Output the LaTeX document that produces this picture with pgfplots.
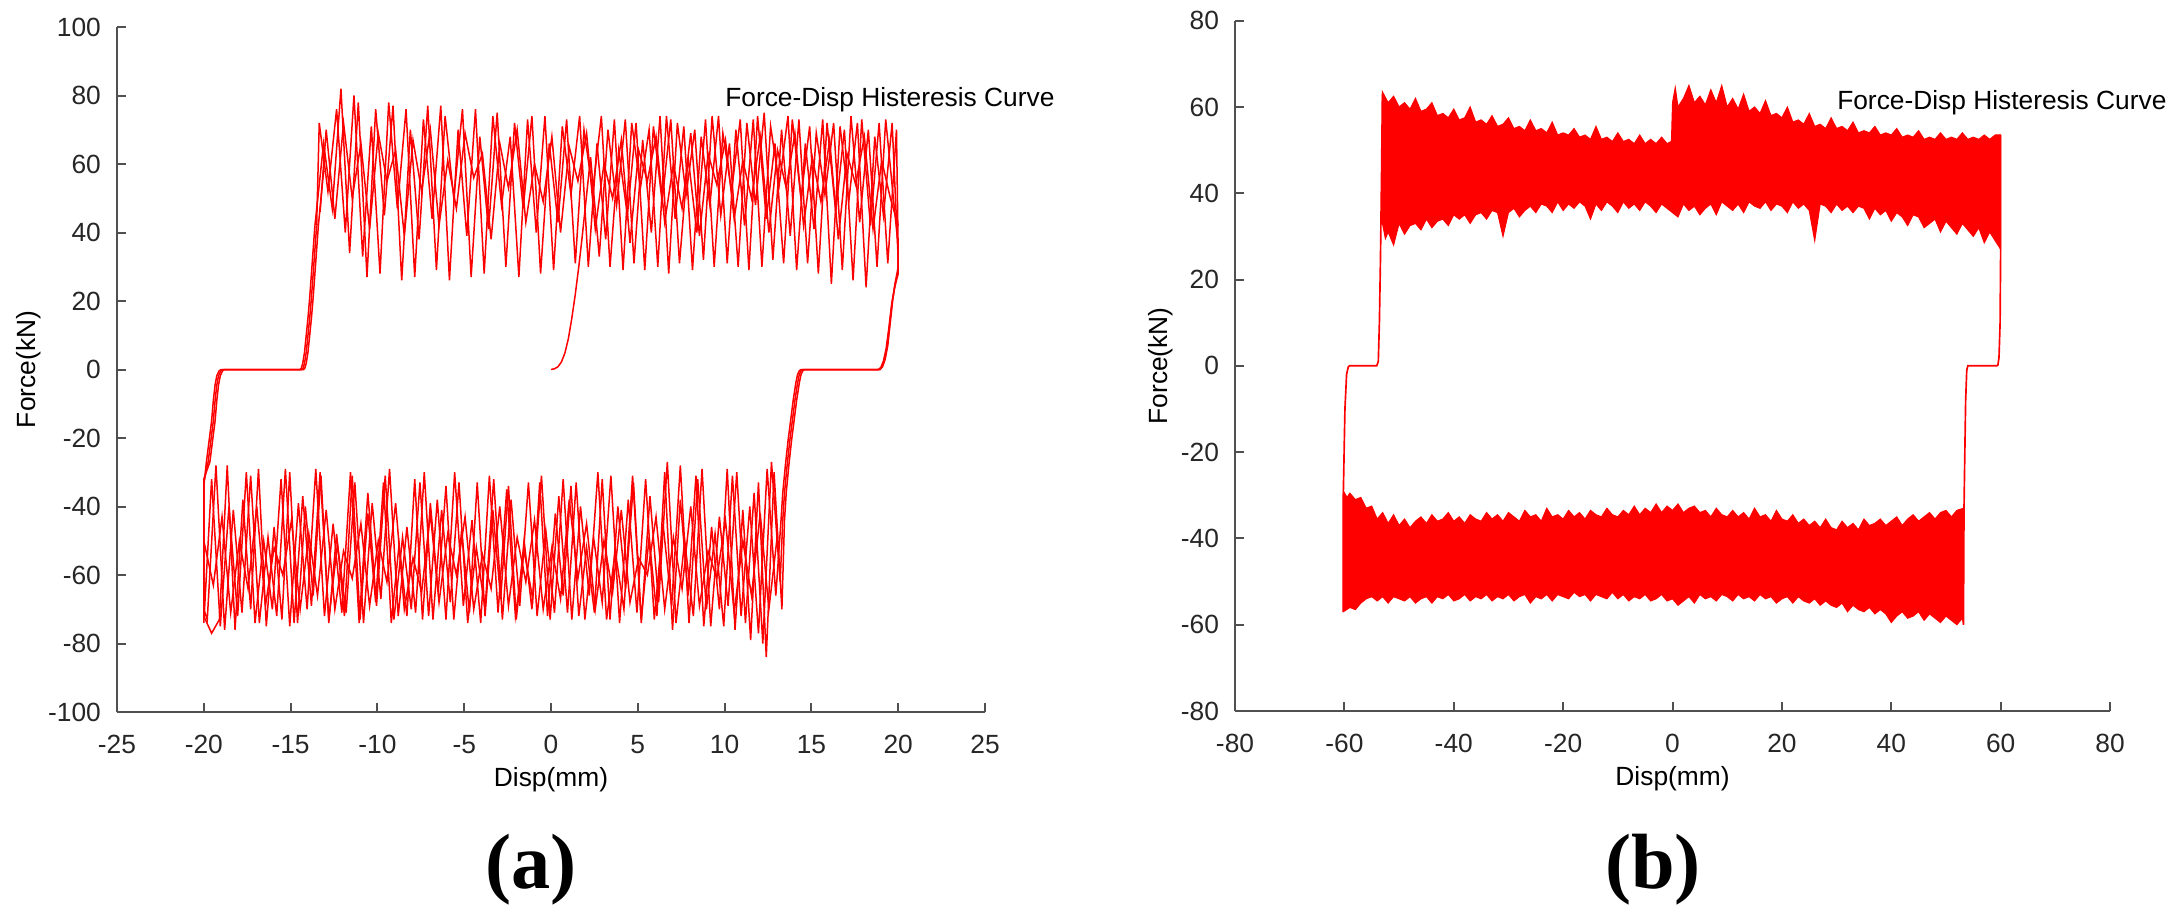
\documentclass[border=0pt]{standalone}
\usepackage{pgfplots}
\pgfplotsset{compat=1.18}
\usepackage{fontspec}
\setmainfont{Liberation Sans}
\newfontfamily\capfont{Liberation Serif}
\definecolor{axgray}{RGB}{80,80,80}
\definecolor{tickblack}{RGB}{38,38,38}
\pgfplotsset{
  hyst/.style={
    scale only axis, clip=false,
    axis lines=left,
    axis line style={-, draw=axgray, line width=0.6pt},
    tick style={draw=axgray, line width=0.6pt},
    tick align=inside, major tick length=2.7pt,
    /pgf/number format/assume math mode=true,
    tick label style={font=\fontsize{7.9}{9.5}\selectfont, text=tickblack},
    xticklabel style={yshift=-3.5pt},
    yticklabel style={xshift=-1.3pt},
    label style={font=\fontsize{7.9}{9.5}\selectfont, text=tickblack},
  }
}
\begin{document}
\begin{tikzpicture}[font=\fontsize{7.9}{9.5}\selectfont]
\path (0,0) rectangle (654.6pt,276.6pt);
% ---------------- (a) ----------------
\begin{axis}[hyst,
  at={(35.1pt,63pt)}, anchor=south west,
  width=260.4pt, height=205.5pt,
  xmin=-25, xmax=25, ymin=-100, ymax=100,
  xtick={-25,-20,...,25}, ytick={-100,-80,...,100},
  xlabel={Disp(mm)}, ylabel={Force(kN)},
  every axis x label/.style={at={(axis description cs:0.5,-0.0993)},anchor=center},
  every axis y label/.style={at={(axis description cs:-0.1014,0.5)},anchor=center,rotate=90},
]
\addplot[red, line width=0.45pt] coordinates {
(0,0) (0.2,0.2) (0.4,0.8) (0.6,2.2) (0.8,4.8) (1.0,9) (1.2,15) (1.4,22) (1.6,30) (1.78,38)
(2.28,62) (2.78,33) (3.28,70) (3.78,48) (4.28,73) (4.78,31) (5.28,67) (5.78,40) (6.28,74) (6.78,28) (7.28,72) (7.78,51) (8.28,70) (8.78,32) (9.28,74) (9.78,45) (10.28,66) (10.78,30) (11.28,72) (11.78,48) (12.28,75) (12.78,32) (13.28,70) (13.78,39) (14.28,73) (14.78,31) (15.28,69) (15.78,51) (16.28,72) (16.78,29) (17.28,74) (17.78,43) (18.28,70) (18.78,30) (19.28,73) (19.78,47) (20,36)
(20,30) (19.85,26) (19.7,21) (19.55,14) (19.4,7) (19.25,3) (19.1,0.8) (18.95,0) (14.6,0) (14.5,-0.4) (14.4,-1.5) (14.3,-4) (14.15,-9) (14.0,-15) (13.85,-21) (13.7,-28) (13.55,-36) (13.45,-44)
(13.3,-70) (12.85,-30) (12.4,-84) (11.95,-33) (11.5,-79) (11.05,-41) (10.6,-76) (10.15,-29) (9.7,-70) (9.25,-46) (8.8,-75) (8.35,-31) (7.9,-66) (7.45,-38) (7.0,-76) (6.55,-30) (6.1,-72) (5.65,-49) (5.2,-73) (4.75,-33) (4.3,-64) (3.85,-40) (3.4,-73) (2.95,-32) (2.5,-71) (2.05,-52) (1.6,-72) (1.15,-34) (0.7,-66) (0.25,-42) (-0.2,-72) (-0.65,-33) (-1.1,-70) (-1.55,-50) (-2.0,-73) (-2.45,-34) (-2.9,-67) (-3.35,-41) (-3.8,-72) (-4.25,-33) (-4.7,-71) (-5.15,-47) (-5.6,-73) (-6.05,-34) (-6.5,-65) (-6.95,-39) (-7.4,-73) (-7.85,-32) (-8.3,-72) (-8.75,-51) (-9.2,-74) (-9.65,-33) (-10.1,-68) (-10.55,-42) (-11.0,-73) (-11.45,-31) (-11.9,-72) (-12.35,-48) (-12.8,-74) (-13.25,-31) (-13.7,-66) (-14.15,-40) (-14.6,-74) (-15.05,-30) (-15.5,-73) (-15.95,-46) (-16.4,-75) (-16.85,-29) (-17.3,-70) (-17.75,-38) (-18.2,-76) (-18.65,-28) (-19.1,-73) (-19.55,-77) (-20.0,-72)
(-20,-34) (-19.85,-27) (-19.7,-21) (-19.55,-15) (-19.45,-9) (-19.35,-4.5) (-19.25,-1.8) (-19.12,-0.4) (-19.0,0) (-14.45,0) (-14.38,0.4) (-14.3,1.8) (-14.2,5) (-14.1,10) (-14.0,15) (-13.9,21) (-13.8,28) (-13.7,35) (-13.6,42)
};
\addplot[red, line width=0.45pt] coordinates {
(-13.6,42) (-13.1,66) (-12.6,47) (-12.1,82) (-11.6,34) (-11.1,78) (-10.6,27) (-10.1,76) (-9.6,45) (-9.1,77) (-8.6,26) (-8.1,70) (-7.6,38) (-7.1,77) (-6.6,29) (-6.1,74) (-5.6,50) (-5.1,76) (-4.6,27) (-4.1,68) (-3.6,41) (-3.1,75) (-2.6,30) (-2.1,72) (-1.6,47) (-1.1,74) (-0.6,28) (-0.1,66) (0.4,43) (0.9,73) (1.4,31) (1.9,70) (2.4,52) (2.9,74) (3.4,30) (3.9,64) (4.4,45) (4.9,72) (5.4,29) (5.9,71) (6.4,49) (6.9,73) (7.4,31) (7.9,62) (8.4,40) (8.9,73) (9.4,30) (9.9,69) (10.4,52) (10.9,73) (11.4,29) (11.9,74) (12.4,44) (12.9,66) (13.4,31) (13.9,73) (14.4,50) (14.9,71) (15.4,28) (15.9,72) (16.4,46) (16.9,70) (17.4,26) (17.9,73) (18.4,42) (18.9,72) (19.4,31) (19.9,70) (20.0,34)
(20,29) (19.82,25) (19.66,20) (19.5,13) (19.35,6.5) (19.2,2.8) (19.05,0.7) (18.9,0) (14.5,0) (14.4,-0.4) (14.3,-1.5) (14.2,-4) (14.05,-9) (13.9,-15) (13.75,-21) (13.6,-28) (13.45,-36) (13.35,-44)
(13.2,-62) (12.7,-27) (12.2,-80) (11.7,-36) (11.2,-74) (10.7,-30) (10.2,-69) (9.7,-43) (9.2,-75) (8.7,-29) (8.2,-72) (7.7,-50) (7.2,-74) (6.7,-27) (6.2,-68) (5.7,-37) (5.2,-74) (4.7,-31) (4.2,-70) (3.7,-53) (3.2,-73) (2.7,-30) (2.2,-66) (1.7,-40) (1.2,-73) (0.7,-32) (0.2,-71) (-0.3,-47) (-0.8,-72) (-1.3,-33) (-1.8,-69) (-2.3,-38) (-2.8,-73) (-3.3,-32) (-3.8,-70) (-4.3,-52) (-4.8,-74) (-5.3,-33) (-5.8,-68) (-6.3,-41) (-6.8,-73) (-7.3,-30) (-7.8,-71) (-8.3,-46) (-8.8,-72) (-9.3,-29) (-9.8,-67) (-10.3,-39) (-10.8,-74) (-11.3,-33) (-11.8,-71) (-12.3,-51) (-12.8,-73) (-13.3,-30) (-13.8,-69) (-14.3,-37) (-14.8,-74) (-15.3,-29) (-15.8,-72) (-16.3,-49) (-16.8,-74) (-17.3,-31) (-17.8,-71) (-18.3,-41) (-18.8,-76) (-19.3,-28) (-19.8,-73) (-20.0,-70)
(-20,-33) (-19.75,-27) (-19.6,-21) (-19.45,-15) (-19.35,-9) (-19.25,-4.5) (-19.15,-1.8) (-19.02,-0.4) (-18.9,0) (-14.35,0) (-14.28,0.4) (-14.2,1.8) (-14.1,5) (-14.0,10) (-13.9,15) (-13.8,21) (-13.7,28) (-13.6,35) (-13.5,42)
};
\addplot[red, line width=0.45pt] coordinates {
(-13.5,42) (-13.35,72) (-12.85,52) (-12.35,76) (-11.85,40) (-11.35,80) (-10.85,33) (-10.35,71) (-9.85,28) (-9.35,78) (-8.85,47) (-8.35,76) (-7.85,27) (-7.35,73) (-6.85,44) (-6.35,77) (-5.85,26) (-5.35,70) (-4.85,39) (-4.35,76) (-3.85,28) (-3.35,74) (-2.85,48) (-2.35,68) (-1.85,27) (-1.35,73) (-0.85,40) (-0.35,74) (0.15,29) (0.65,71) (1.15,51) (1.65,74) (2.15,30) (2.65,66) (3.15,38) (3.65,73) (4.15,29) (4.65,72) (5.15,53) (5.65,70) (6.15,30) (6.65,74) (7.15,44) (7.65,71) (8.15,29) (8.65,68) (9.15,48) (9.65,74) (10.15,31) (10.65,70) (11.15,42) (11.65,73) (12.15,30) (12.65,71) (13.15,54) (13.65,74) (14.15,29) (14.65,66) (15.15,41) (15.65,73) (16.15,25) (16.65,71) (17.15,49) (17.65,72) (18.15,24) (18.65,68) (19.15,45) (19.65,72) (20.0,32)
(20,28) (19.8,24) (19.62,19) (19.46,12) (19.3,6) (19.15,2.5) (19.0,0.6) (18.85,0) (14.4,0) (14.3,-0.4) (14.2,-1.5) (14.1,-4) (13.95,-9) (13.8,-15) (13.65,-21) (13.5,-28) (13.35,-36) (13.25,-44)
(12.95,-66) (12.45,-29) (11.95,-77) (11.45,-40) (10.95,-72) (10.45,-31) (9.95,-75) (9.45,-48) (8.95,-70) (8.45,-32) (7.95,-74) (7.45,-28) (6.95,-69) (6.45,-45) (5.95,-73) (5.45,-32) (4.95,-71) (4.45,-38) (3.95,-74) (3.45,-31) (2.95,-68) (2.45,-49) (1.95,-73) (1.45,-33) (0.95,-71) (0.45,-37) (-0.05,-73) (-0.55,-31) (-1.05,-67) (-1.55,-53) (-2.05,-72) (-2.55,-35) (-3.05,-71) (-3.55,-31) (-4.05,-74) (-4.55,-44) (-5.05,-69) (-5.55,-30) (-6.05,-73) (-6.55,-38) (-7.05,-72) (-7.55,-33) (-8.05,-70) (-8.55,-49) (-9.05,-73) (-9.55,-31) (-10.05,-69) (-10.55,-36) (-11.05,-74) (-11.55,-30) (-12.05,-71) (-12.55,-45) (-13.05,-72) (-13.55,-29) (-14.05,-70) (-14.55,-39) (-15.05,-75) (-15.55,-32) (-16.05,-70) (-16.55,-50) (-17.05,-74) (-17.55,-30) (-18.05,-72) (-18.55,-40) (-19.05,-75) (-19.55,-32) (-20.0,-74)
(-20,-32) (-19.65,-27) (-19.5,-21) (-19.35,-15) (-19.25,-9) (-19.15,-4.5) (-19.05,-1.8) (-18.92,-0.4) (-18.8,0) (-14.25,0) (-14.18,0.4) (-14.1,1.8) (-14.0,5) (-13.9,10) (-13.8,15) (-13.7,21) (-13.6,28) (-13.5,35) (-13.4,42) (-13.1,58)
};
% inner cycles (smaller amplitude)
\addplot[red, line width=0.45pt] coordinates {
(-13.3,46) (-12.95,70) (-12.45,44) (-11.95,72) (-11.45,50) (-10.95,66) (-10.45,41) (-9.95,69) (-9.45,55) (-8.95,64) (-8.45,39) (-7.95,67) (-7.45,52) (-6.95,70) (-6.45,42) (-5.95,61) (-5.45,47) (-4.95,69) (-4.45,56) (-3.95,63) (-3.45,38) (-2.95,66) (-2.45,53) (-1.95,70) (-1.45,43) (-0.95,60) (-0.45,49) (0.05,68) (0.55,40) (1.05,65) (1.55,55) (2.05,69) (2.55,41) (3.05,60) (3.55,50) (4.05,67) (4.55,37) (5.05,64) (5.55,55) (6.05,68) (6.55,43) (7.05,60) (7.55,47) (8.05,69) (8.55,39) (9.05,63) (9.55,54) (10.05,67) (10.55,44) (11.05,61) (11.55,50) (12.05,68) (12.55,40) (13.05,64) (13.55,53) (14.05,69) (14.55,42) (15.05,62) (15.55,49) (16.05,67) (16.55,38) (17.05,63) (17.55,54) (18.05,68) (18.55,41) (19.05,61) (19.55,50) (20,42)
};
\addplot[red, line width=0.45pt] coordinates {
(13.05,-48) (12.55,-70) (12.05,-42) (11.55,-66) (11.05,-50) (10.55,-71) (10.05,-44) (9.55,-61) (9.05,-53) (8.55,-69) (8.05,-40) (7.55,-64) (7.05,-49) (6.55,-70) (6.05,-43) (5.55,-60) (5.05,-55) (4.55,-68) (4.05,-41) (3.55,-65) (3.05,-50) (2.55,-70) (2.05,-45) (1.55,-61) (1.05,-38) (0.55,-67) (0.05,-52) (-0.45,-70) (-0.95,-44) (-1.45,-62) (-1.95,-49) (-2.45,-69) (-2.95,-40) (-3.45,-64) (-3.95,-54) (-4.45,-70) (-4.95,-43) (-5.45,-60) (-5.95,-48) (-6.45,-68) (-6.95,-42) (-7.45,-65) (-7.95,-55) (-8.45,-70) (-8.95,-39) (-9.45,-62) (-9.95,-50) (-10.45,-69) (-10.95,-45) (-11.45,-61) (-11.95,-53) (-12.45,-70) (-12.95,-41) (-13.45,-66) (-13.95,-48) (-14.45,-70) (-14.95,-44) (-15.45,-60) (-15.95,-52) (-16.45,-69) (-16.95,-40) (-17.45,-64) (-17.95,-50) (-18.45,-71) (-18.95,-43) (-19.45,-63) (-20,-50)
};
\node[anchor=base west, inner sep=0pt, text=black] at (axis cs:10,76.8) {Force-Disp Histeresis Curve};
\end{axis}
% ---------------- (b) ----------------
\begin{axis}[hyst,
  at={(370.5pt,63.3pt)}, anchor=south west,
  width=262.5pt, height=207.1pt,
  xmin=-80, xmax=80, ymin=-80, ymax=80,
  xtick={-80,-60,...,80}, ytick={-80,-60,...,80},
  xlabel={Disp(mm)}, ylabel={Force(kN)},
  every axis x label/.style={at={(axis description cs:0.5,-0.0985)},anchor=center},
  every axis y label/.style={at={(axis description cs:-0.0846,0.5)},anchor=center,rotate=90},
]
\addplot[red, line width=0.5pt] coordinates {(-60.2,-57) (-60.2,-30) (-59.9,-10) (-59.6,-2) (-59.3,-0.3) (-59.1,0) (-54.1,0) (-53.8,1) (-53.6,10) (-53.4,25) (-53.2,45) (-53.05,63)};
\addplot[red, line width=0.5pt] coordinates {(60,53.5) (60,27) (59.9,10) (59.7,2) (59.5,0.2) (59.3,0) (54.0,0) (53.8,-1) (53.6,-8) (53.45,-20) (53.3,-33) (53.2,-60)};
\addplot[red, fill=red, line width=0.3pt] coordinates {
(-53.05,33) (-53.05,63.5) (-52,61) (-51,62.5) (-50,60) (-49,61) (-48,59.5) (-47,62) (-46,59) (-45,59.5) (-44,61) (-43,58) (-42,58.5) (-41,57.5) (-40,59.5) (-39,57) (-38,57.5) (-37,60) (-36,56.5) (-35,57) (-34,56) (-33,58) (-32,55.5) (-31,56) (-30,57.5) (-29,55) (-28,55.5) (-27,54.5) (-26,57) (-25,54.5) (-24,55) (-23,54) (-22,56.5) (-21,53.5) (-20,54) (-19,53.5) (-18,55) (-17,53) (-16,53.5) (-15,52.5) (-14,55.5) (-13,52.5) (-12,53) (-11,52) (-10,54) (-9,52) (-8,52.5) (-7,51.5) (-6,53.5) (-5,51.5) (-4,52.5) (-3,51.5) (-2,53) (-1,51.5) (-0.2,52)
(0,61) (0.5,64.5) (1,60) (2,62) (3,65) (4,61) (5,62.5) (6,60.5) (7,64) (8,61) (9,65) (10,60) (11,62) (12,59.5) (13,63) (14,59) (15,60) (16,58.5) (17,61.5) (18,58) (19,58.5) (20,57.5) (21,60) (22,56.5) (23,57) (24,56) (25,58.5) (26,55.5) (27,56) (28,55) (29,57.5) (30,55) (31,55.5) (32,54.5) (33,56.5) (34,54) (35,54.5) (36,54) (37,55.5) (38,53.5) (39,54) (40,53.5) (41,55) (42,53) (43,53.5) (44,53) (45,54.5) (46,52.5) (47,53) (48,52.5) (49,54) (50,52.5) (51,53) (52,52.5) (53,54) (54,52.5) (55,53) (56,52.5) (57,53.5) (58,52.5) (59,53.5) (60,53.5)
(60,27) (59,29) (58,31) (57,28.5) (56,32) (55,30) (54,31.5) (53,33) (52,30.5) (51,32) (50,33.5) (49,31) (48,34) (47,33) (46,32) (45,34.5) (44,35) (43,32.5) (42,34.5) (41,35.5) (40,33.5) (39,36) (38,35) (37,36.5) (36,34) (35,36.5) (34,37) (33,35.5) (32,37) (31,36) (30,37.5) (29,35.5) (28,37) (27,37.5) (26,29) (25,36) (24,37.5) (23,36.5) (22,38) (21,35.5) (20,37) (19,37.5) (18,36) (17,38) (16,36.5) (15,37) (14,38) (13,35.5) (12,37.5) (11,36) (10,37) (9,38) (8,35) (7,37.5) (6,36.5) (5,35) (4,37) (3,36) (2,37.5) (1,34.5) (0,35.5) (-1,36.5) (-2,37.5) (-3,35.5) (-4,37) (-5,38) (-6,36) (-7,37.5) (-8,36.5) (-9,38) (-10,35.5) (-11,37) (-12,38) (-13,36) (-14,37.5) (-15,34) (-16,37) (-17,38) (-18,36.5) (-19,37.5) (-20,36) (-21,38) (-22,35.5) (-23,37) (-24,37.5) (-25,35.5) (-26,37) (-27,36) (-28,34.5) (-29,36.5) (-30,35.5) (-31,30) (-32,35.5) (-33,36) (-34,34) (-35,35.5) (-36,35) (-37,33) (-38,35) (-39,34) (-40,35) (-41,32.5) (-42,34) (-43,33.5) (-44,32) (-45,34) (-46,31.5) (-47,33) (-48,32.5) (-49,30.5) (-50,33) (-51,28) (-52,31) (-52.5,29.5) (-53.05,33)
} -- cycle;
\addplot[red, fill=red, line width=0.3pt] coordinates {
(-60.2,-57) (-60.2,-29) (-59.5,-30.5) (-59,-29.5) (-58,-31) (-57,-30.5) (-56,-33) (-55,-32.5) (-54,-35.5) (-53,-34) (-52,-36.5) (-51,-34.5) (-50,-37) (-49,-35.5) (-48,-37.5) (-47,-36) (-46,-35) (-45,-36.5) (-44,-34.5) (-43,-36) (-42,-35.5) (-41,-34) (-40,-36) (-39,-35) (-38,-36.5) (-37,-34.5) (-36,-35.5) (-35,-36) (-34,-34) (-33,-35.5) (-32,-34.5) (-31,-36) (-30,-34) (-29,-35) (-28,-36) (-27,-33.5) (-26,-35) (-25,-34.5) (-24,-36) (-23,-33) (-22,-35) (-21,-34.5) (-20,-35.5) (-19,-33.5) (-18,-35) (-17,-34) (-16,-35.5) (-15,-33.5) (-14,-34.5) (-13,-35) (-12,-33) (-11,-34.5) (-10,-35) (-9,-33.5) (-8,-34.5) (-7,-32.5) (-6,-34.5) (-5,-33) (-4,-34) (-3,-32) (-2,-34) (-1,-32.5) (0,-33.5) (1,-32) (2,-34) (3,-33) (4,-32.5) (5,-34) (6,-33.5) (7,-35) (8,-33) (9,-34.5) (10,-35) (11,-33.5) (12,-35) (13,-34) (14,-35.5) (15,-33) (16,-35) (17,-34.5) (18,-36) (19,-33.5) (20,-35.5) (21,-36) (22,-34.5) (23,-36.5) (24,-35.5) (25,-37) (26,-36) (27,-37.5) (28,-35.5) (29,-37.5) (30,-38) (31,-36) (32,-37.5) (33,-36.5) (34,-38) (35,-35.5) (36,-37) (37,-36.5) (38,-35.5) (39,-37) (40,-36) (41,-35) (42,-37) (43,-35.5) (44,-34.5) (45,-36) (46,-35) (47,-34) (48,-35.5) (49,-34) (50,-33.5) (51,-35) (52,-33.5) (53.2,-33)
(53.2,-60) (53,-58.5) (52,-60) (51,-59) (50,-58) (49,-59.5) (48,-58.5) (47,-57.5) (46,-59) (45,-57) (44,-58) (43,-58.5) (42,-57) (41,-58) (40,-59.5) (39,-57.5) (38,-56.5) (37,-57.5) (36,-56) (35,-57) (34,-56.5) (33,-55.5) (32,-57) (31,-55) (30,-56) (29,-55.5) (28,-54.5) (27,-55.5) (26,-54) (25,-55) (24,-54.5) (23,-53.5) (22,-55) (21,-53.5) (20,-54) (19,-55) (18,-53.5) (17,-54) (16,-53) (15,-54.5) (14,-53.5) (13,-54) (12,-53) (11,-54.5) (10,-53.5) (9,-53) (8,-54.5) (7,-53.5) (6,-54) (5,-53) (4,-55) (3,-53.5) (2,-54.5) (1,-55.5) (0,-54) (-1,-54.5) (-2,-53) (-3,-54) (-4,-54.5) (-5,-53) (-6,-54) (-7,-53.5) (-8,-54.5) (-9,-53) (-10,-54) (-11,-52.5) (-12,-54) (-13,-53.5) (-14,-53) (-15,-54.5) (-16,-53) (-17,-53.5) (-18,-52.5) (-19,-54) (-20,-53.5) (-21,-53) (-22,-54.5) (-23,-53) (-24,-54) (-25,-53.5) (-26,-55) (-27,-53) (-28,-53.5) (-29,-54.5) (-30,-53) (-31,-54) (-32,-53.5) (-33,-54.5) (-34,-53) (-35,-54) (-36,-53.5) (-37,-54.5) (-38,-53) (-39,-54) (-40,-54.5) (-41,-53) (-42,-54) (-43,-53.5) (-44,-55) (-45,-53.5) (-46,-54) (-47,-55) (-48,-53.5) (-49,-54.5) (-50,-54) (-51,-53.5) (-52,-55) (-53,-53.5) (-54,-54.5) (-55,-53.5) (-56,-54) (-57,-55) (-58,-56.5) (-59,-56) (-60.2,-57)
} -- cycle;
\node[anchor=base west, inner sep=0pt, text=black] at (axis cs:30,59.3) {Force-Disp Histeresis Curve};
\end{axis}
\node[font=\fontsize{23.5}{26}\selectfont\capfont\bfseries, inner sep=0pt] at (159.3pt,15.6pt) {(a)};
\node[font=\fontsize{23.5}{26}\selectfont\capfont\bfseries, inner sep=0pt] at (495.9pt,15.6pt) {(b)};
\end{tikzpicture}
\end{document}
